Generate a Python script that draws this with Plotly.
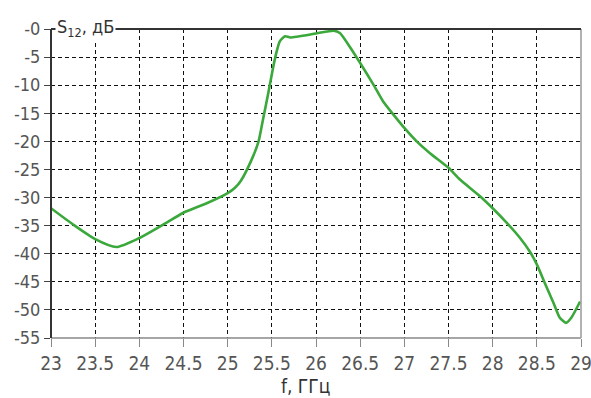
import plotly.graph_objects as go

# Frequency, GHz
freq = [23.0, 23.25, 23.5, 23.74, 24.0, 24.25, 24.5, 24.75, 25.0, 25.08, 25.15,
        25.27, 25.35, 25.40, 25.46, 25.51, 25.55, 25.59, 25.65, 25.71, 26.0,
        26.2, 26.27, 26.38, 26.5, 26.65, 26.76, 26.89, 27.0, 27.14, 27.29,
        27.5, 27.63, 27.86, 28.0, 28.16, 28.31, 28.42, 28.5, 28.59, 28.69,
        28.76, 28.83, 28.89, 28.99]
# S12, dB
s12 = [-31.9, -34.8, -37.4, -38.8, -37.2, -35.0, -32.7, -31.1, -29.2, -28.3, -27.0,
       -23.3, -20.0, -16.1, -11.4, -7.2, -4.3, -2.2, -1.3, -1.5, -0.8,
       -0.3, -0.7, -3.1, -6.05, -9.9, -12.9, -15.5, -17.6, -20.0, -22.1,
       -24.7, -26.8, -29.8, -31.9, -34.5, -37.2, -39.6, -41.9, -45.2, -48.8,
       -51.4, -52.3, -51.4, -48.5]

x_ticks = [23, 23.5, 24, 24.5, 25, 25.5, 26, 26.5, 27, 27.5, 28, 28.5, 29]
x_ticktext = ["23", "23.5", "24", "24.5", "25", "25.5", "26", "26.5", "27",
              "27.5", "28", "28.5", "29"]
y_ticks = [0, -5, -10, -15, -20, -25, -30, -35, -40, -45, -50, -55]
y_ticktext = ["-0", "-5", "-10", "-15", "-20", "-25", "-30", "-35", "-40",
              "-45", "-50", "-55"]

FONT = "DejaVu Sans Condensed"

fig = go.Figure()
fig.add_trace(go.Scatter(
    x=freq, y=s12, mode="lines",
    line=dict(color="#3aa83a", width=2.6, shape="spline", smoothing=0.6),
    showlegend=False, hoverinfo="skip",
))

fig.update_layout(
    width=591, height=398,
    margin=dict(l=51, r=10, t=29, b=60, autoexpand=False),
    paper_bgcolor="white", plot_bgcolor="white",
    font=dict(family=FONT, color="#555"),
    xaxis=dict(
        range=[23, 29], tickmode="array", tickvals=x_ticks, ticktext=x_ticktext,
        showgrid=True, gridcolor="#111", gridwidth=1.3, griddash="4px,3px",
        zeroline=False, showline=False, automargin=False,
        ticks="outside", ticklen=8, tickcolor="#888", tickwidth=1,
        ticklabeloverflow="allow",
        tickfont=dict(family=FONT, size=19, color="#555"),
    ),
    yaxis=dict(
        range=[-55, 0], tickmode="array", tickvals=y_ticks, ticktext=y_ticktext,
        showgrid=True, gridcolor="#111", gridwidth=1.3, griddash="4px,3px",
        zeroline=False, showline=False, automargin=False,
        ticks="outside", ticklen=6, tickcolor="#444", tickwidth=1,
        tickfont=dict(family=FONT, size=18, color="#555"),
    ),
    shapes=[
        dict(type="line", xref="paper", yref="paper", x0=0, x1=1, y0=0, y1=0,
             line=dict(color="#888", width=1.5), layer="above"),
        dict(type="line", xref="paper", yref="paper", x0=1, x1=1, y0=0, y1=1,
             line=dict(color="#999", width=1.5), layer="above"),
        dict(type="line", xref="paper", yref="paper", x0=0, x1=0, y0=0, y1=1,
             line=dict(color="#333", width=2), layer="above"),
        dict(type="line", xref="paper", yref="paper", x0=0, x1=1, y0=1, y1=1,
             line=dict(color="#333", width=2), layer="above"),
    ],
    annotations=[
        dict(text="S<sub>12</sub>, дБ", xref="paper", yref="paper",
             x=0.008, y=1, xanchor="left", yanchor="middle", yshift=1,
             showarrow=False, bgcolor="white", borderpad=1,
             font=dict(family=FONT, size=18, color="#333")),
        dict(text="f, ГГц", xref="paper", yref="paper",
             x=0.481, y=-0.155, xanchor="center", yanchor="middle",
             showarrow=False, font=dict(family=FONT, size=19, color="#333")),
    ],
)

fig.write_html("out.html")
